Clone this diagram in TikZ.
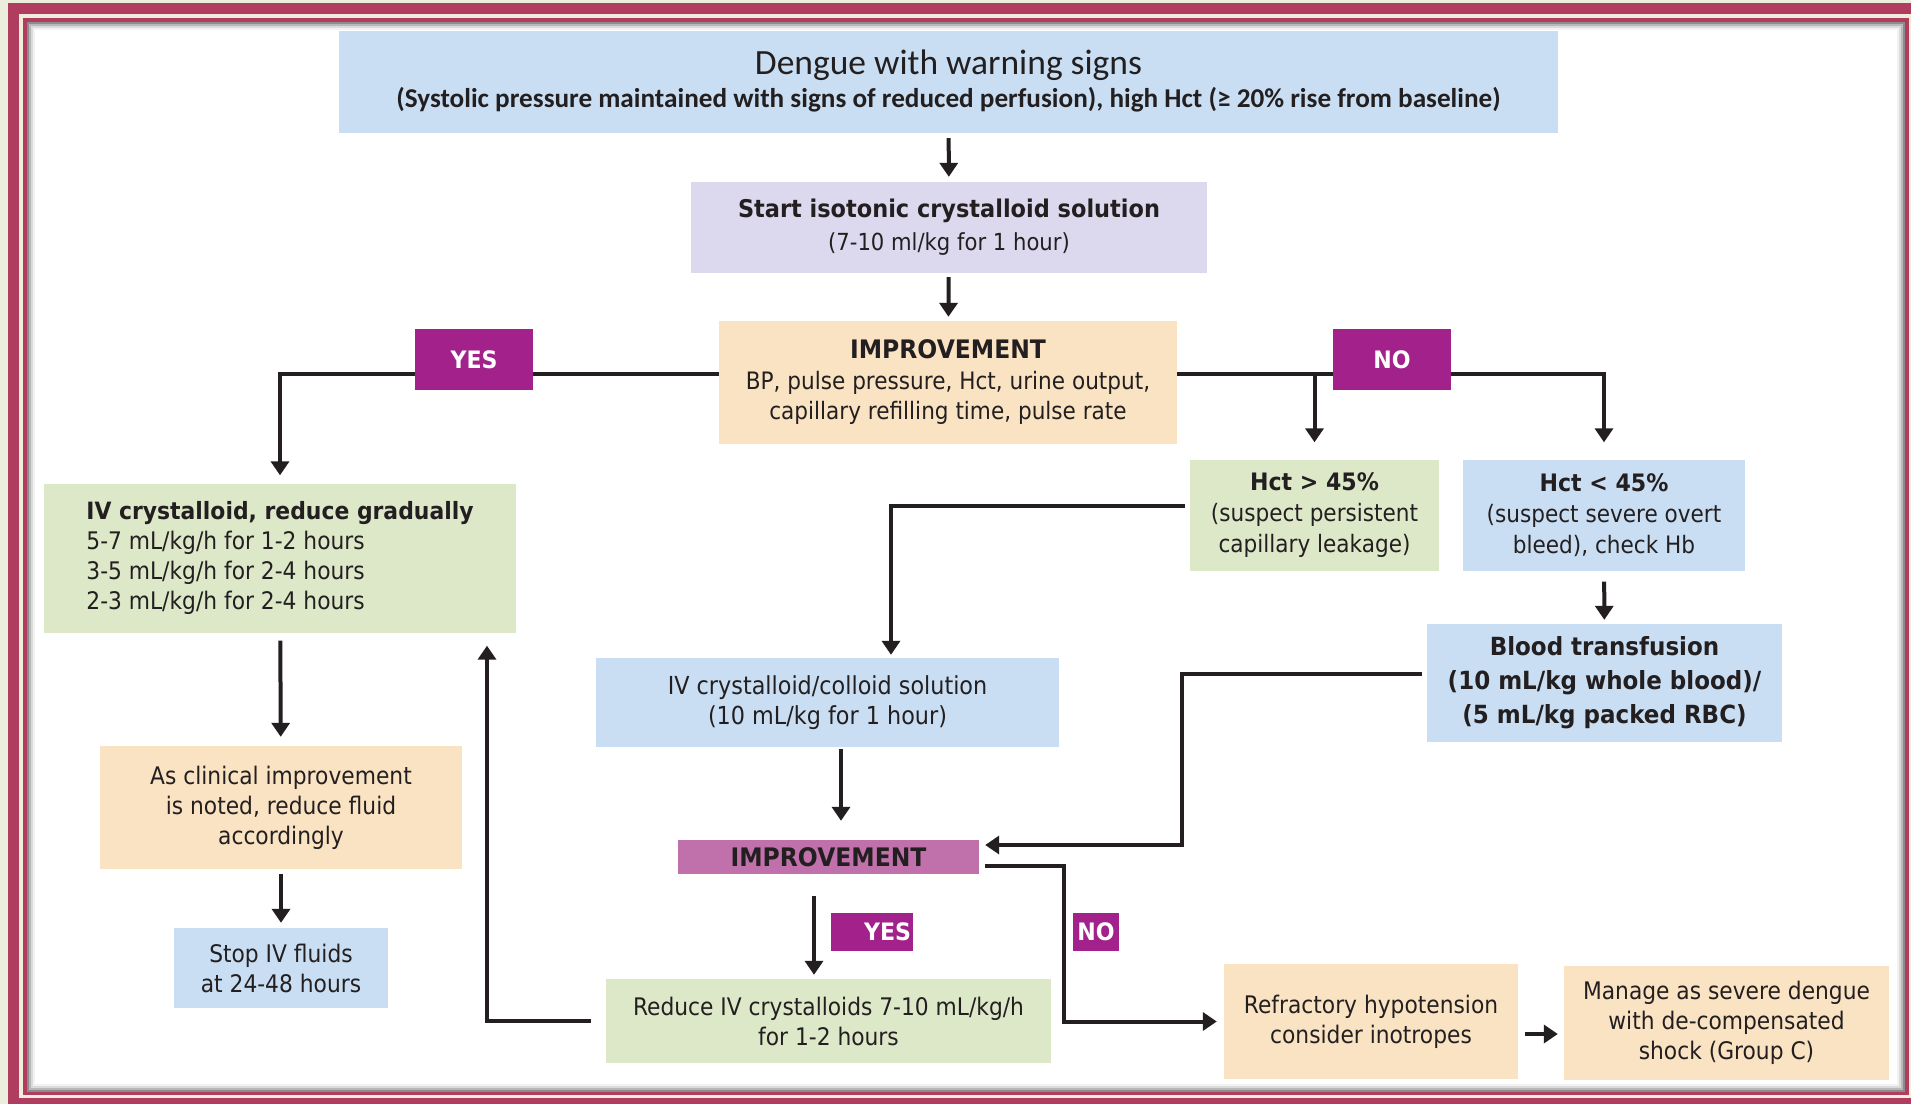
\documentclass[tikz,border=0pt]{standalone}
\usepackage{fontspec}
\setmainfont{DejaVu Sans}[FakeStretch=0.9]
\newfontfamily\boldface{DejaVu Sans}[FakeStretch=0.92]
\newfontfamily\headface{Carlito}
\usetikzlibrary{positioning, arrows.meta}

\definecolor{pagecream}{RGB}{235,238,221}
\definecolor{gapcream}{RGB}{240,238,218}
\definecolor{framepink}{RGB}{176,60,95}
\definecolor{boxblue}{RGB}{201,222,242}
\definecolor{boxlilac}{RGB}{220,217,238}
\definecolor{boxpeach}{RGB}{250,227,195}
\definecolor{boxgreen}{RGB}{221,232,201}
\definecolor{tagpurple}{RGB}{163,33,138}
\definecolor{barpurple}{RGB}{192,113,172}
\definecolor{ink}{RGB}{35,31,32}

\newcommand{\bt}[1]{{\boldface\bfseries #1}}

\begin{document}
\begin{tikzpicture}[x=1pt, y=-1pt,
  box/.style={inner sep=0pt, align=center, text=ink, font=\fontsize{24.2}{30}\selectfont},
  bluebox/.style={box, fill=boxblue},
  lilacbox/.style={box, fill=boxlilac},
  peachbox/.style={box, fill=boxpeach},
  greenbox/.style={box, fill=boxgreen},
  tag/.style={inner sep=0pt, fill=tagpurple, text=white, font=\boldface\bfseries\fontsize{24}{24}\selectfont},
  link/.style={draw=ink, line width=4pt},
  flow/.style={link, -{Triangle[length=14pt, width=18pt]}}]

  % Frame
  \useasboundingbox (0,0) rectangle (1911,1104);
  \fill[pagecream] (0,0) rectangle (1911,1104);
  \fill[framepink] (8,3) rectangle (1911,1104);
  \fill[gapcream] (19,14) rectangle (1911,1098);
  \fill[framepink] (23,18) rectangle (1909,1095);
  \fill[white] (27,22) rectangle (1905,1092);
  \foreach \i/\o in {0/0.45, 2/0.28, 4/0.14, 6/0.05}
    \draw[black, opacity=\o, line width=2pt] (28+\i,23+\i) rectangle (1904-\i,1091-\i);

  % Top of the chart
  \node[bluebox, minimum width=1219pt, minimum height=102pt] (warn) at (948.5,82)
    {{\headface\fontsize{35.5}{36}\selectfont Dengue with warning signs}\\[3pt]
     {\headface\bfseries\fontsize{27.2}{28}\selectfont (Systolic pressure maintained with signs of reduced perfusion), high Hct (≥ 20\% rise from baseline)}\\[-24pt]\mbox{}};
  \node[lilacbox, minimum width=516pt, minimum height=91pt, font=\fontsize{23.5}{33}\selectfont] (start) at (949,227.5)
    {\bt{\fontsize{24.4}{33}\selectfont Start isotonic crystalloid solution}\\(7-10 ml/kg for 1 hour)};
  \node[peachbox, minimum width=458pt, minimum height=123pt, font=\fontsize{24}{30.5}\selectfont] (improve) at (948,382.5)
    {\bt{\fontsize{25.5}{30.5}\selectfont IMPROVEMENT}\\BP, pulse pressure, Hct, urine output,\\capillary refilling time, pulse rate};

  % YES branch
  \node[greenbox, minimum width=472pt, minimum height=149pt, align=left] (ivgrad) at (280,558)
    {\bt{\fontsize{23.8}{29.5}\selectfont IV crystalloid, reduce gradually}\\5-7 mL/kg/h for 1-2 hours\\3-5 mL/kg/h for 2-4 hours\\2-3 mL/kg/h for 2-4 hours};
  \node[peachbox, minimum width=362pt, minimum height=123pt] (ease) at (281,807.5)
    {As clinical improvement\\is noted, reduce fluid\\accordingly};
  \node[bluebox, minimum width=214pt, minimum height=80pt] (stop) at (281,968)
    {Stop IV fluids\\at 24-48 hours};

  % NO branch
  \node[greenbox, minimum width=249pt, minimum height=111pt, font=\fontsize{24}{31}\selectfont] (hihct) at (1314.5,515)
    {\bt{Hct > 45\%}\\(suspect persistent\\capillary leakage)};
  \node[bluebox, minimum width=282pt, minimum height=111pt, font=\fontsize{24}{31}\selectfont] (lowhct) at (1604,515)
    {\bt{Hct < 45\%}\\(suspect severe overt\\bleed), check Hb};
  \node[bluebox, minimum width=355pt, minimum height=118pt, font=\boldface\bfseries\fontsize{25}{34}\selectfont] (blood) at (1604.5,683)
    {Blood transfusion\\(10 mL/kg whole blood)/\\(5 mL/kg packed RBC)};
  \node[bluebox, minimum width=463pt, minimum height=89pt, font=\fontsize{24.8}{30}\selectfont] (colloid) at (827.5,702.5)
    {IV crystalloid/colloid solution\\(10 mL/kg for 1 hour)};
  \node[inner sep=0pt, fill=barpurple, text=ink, minimum width=301pt, minimum height=34pt,
        font=\boldface\bfseries\fontsize{25.5}{26}\selectfont] (improve2) at (828.5,857) {IMPROVEMENT};
  \node[greenbox, minimum width=445pt, minimum height=84pt] (reduce) at (828.5,1021)
    {Reduce IV crystalloids 7-10 mL/kg/h\\for 1-2 hours};
  \node[peachbox, minimum width=294pt, minimum height=115pt] (refract) at (1371,1021.5)
    {Refractory hypotension\\consider inotropes};
  \node[peachbox, minimum width=325pt, minimum height=114pt] (manage) at (1726.5,1023)
    {Manage as severe dengue\\with de-compensated\\shock (Group C)};

  % Connectors
  \draw[flow, shorten <=5pt, shorten >=5pt] (warn) -- (start);
  \draw[flow, shorten <=4pt, shorten >=4pt] (start) -- (improve);
  \coordinate (yesline) at ([yshift=8.5pt]improve.west);
  \coordinate (noline) at ([yshift=8.5pt]improve.east);
  \draw[flow, shorten >=8pt] (yesline) -| (ivgrad.north);
  \draw[flow, shorten >=17pt] (noline) -| (lowhct.north);
  \draw[flow, shorten >=17pt] (hihct.north |- noline) -- (hihct.north);
  \draw[flow, shorten <=11pt, shorten >=4pt] (lowhct) -- (blood);
  \draw[flow, shorten <=5pt, shorten >=3pt] ([yshift=9pt]hihct.west) -| ([xshift=63.5pt]colloid.north);
  \draw[flow, shorten <=2pt, shorten >=19pt] ([xshift=13.5pt]colloid.south) -- ([xshift=12.5pt]improve2.north);
  \draw[flow, shorten <=5pt, shorten >=6pt] ([yshift=9pt]blood.west) -| ([xshift=203pt,yshift=12pt]improve2.east) -- ([yshift=12pt]improve2.east);
  \draw[flow, shorten <=6pt, shorten >=7pt] ([yshift=-9pt]improve2.east) -- ++(85,0) |- (refract.west);
  \draw[flow, shorten <=7pt, shorten >=6pt] ([yshift=-12.5pt]refract.east) -- ([yshift=-12.5pt]manage.west |- refract.east);
  \draw[flow, shorten <=22pt, shorten >=4pt] ([xshift=-14.5pt]improve2.south) -- ([xshift=-14.5pt]reduce.north);
  \draw[flow, shorten <=15pt, shorten >=13pt] (reduce.west) -| ([xshift=207pt]ivgrad.south);
  \draw[flow, shorten <=8pt, shorten >=9pt] (ivgrad) -- (ease);
  \draw[flow, shorten <=5pt, shorten >=5pt] (ease) -- (stop);

  % Answer tags
  \node[tag, minimum width=118pt, minimum height=61pt] (yes1) at (474,359.5) {YES};
  \node[tag, minimum width=118pt, minimum height=61pt] (no1) at (1392,359.5) {NO};
  \node[tag, minimum width=82pt, minimum height=38pt, text width=78pt, align=right] (yes2) at (872,932) {YES};
  \node[tag, minimum width=46pt, minimum height=38pt] (no2) at (1096,932) {NO};
\end{tikzpicture}
\end{document}
